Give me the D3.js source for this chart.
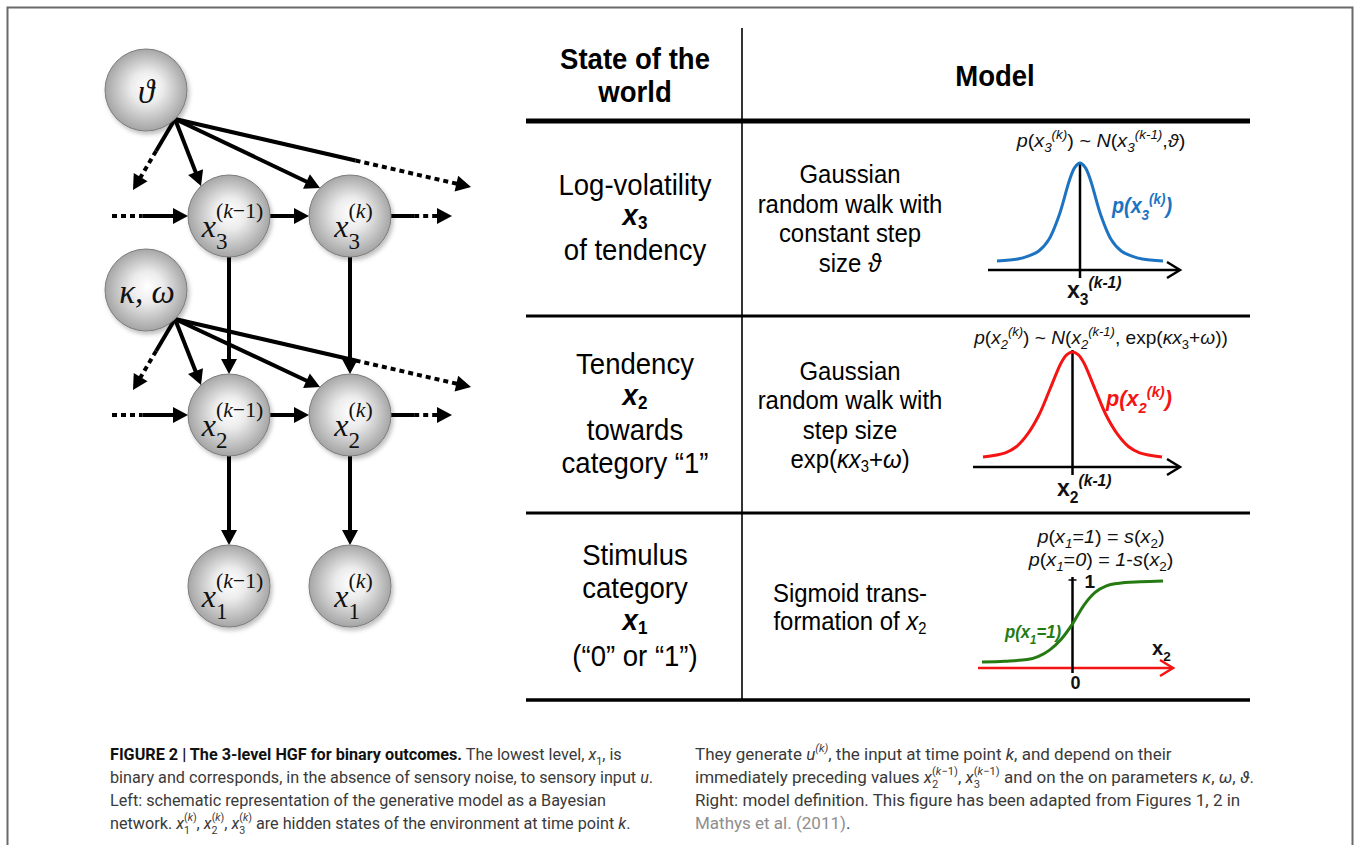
<!DOCTYPE html>
<html>
<head>
<meta charset="utf-8">
<script src="https://cdn.jsdelivr.net/npm/d3@7"></script>
<style>
  body { margin: 0; background: #fff; }
  svg { display: block; }
</style>
</head>
<body>
<div id="chart"></div>
<script>
// ---- data ----
var timeSteps = ["k-1", "k"];
var levels = [3, 2, 1];
var params = [
  { id: "theta", level: 3, label: [{ t: "ϑ", i: 1 }] },
  { id: "kw", level: 2, label: [{ t: "κ, ω", i: 1 }] }
];
// every parameter points to: the past (off view), x(k-1), x(k), the future (off view)
var paramTargets = ["past", "k-1", "k", "future"];

var headers = [["State of the", "world"], ["Model"]];

var stateLabels = [
  [["Log-volatility"], [{ t: "x", b: 1, i: 1 }, { t: "3", sub: 1, b: 1 }], [" of tendency"]],
  [["Tendency"], [{ t: "x", b: 1, i: 1 }, { t: "2", sub: 1, b: 1 }], ["towards"], ["category “1”"]],
  [["Stimulus"], ["category"], [{ t: "x", b: 1, i: 1 }, { t: "1", sub: 1, b: 1 }], ["(“0” or “1”)"]]
];
var modelLabels = [
  [["Gaussian"], ["random walk with"], ["constant step"], ["size ", { t: "ϑ", i: 1 }]],
  [["Gaussian"], ["random walk with"], ["step size"],
   ["exp(", { t: "κx", i: 1 }, { t: "3", sub: 1 }, "+", { t: "ω", i: 1 }, ")"]],
  [["Sigmoid trans-"], ["formation of ", { t: "x", i: 1 }, { t: "2", sub: 1 }]]
];
var formulas = [
  [[{ t: "p", i: 1 }, "(", { t: "x", i: 1 }, { t: "3", sub: 1, i: 1 }, { t: "(k)", sup: 1, i: 1 }, ") ~ ",
    { t: "N", i: 1 }, "(", { t: "x", i: 1 }, { t: "3", sub: 1, i: 1 }, { t: "(k-1)", sup: 1, i: 1 }, ",", { t: "ϑ", i: 1 }, ")"]],
  [[{ t: "p", i: 1 }, "(", { t: "x", i: 1 }, { t: "2", sub: 1, i: 1 }, { t: "(k)", sup: 1, i: 1 }, ") ~ ",
    { t: "N", i: 1 }, "(", { t: "x", i: 1 }, { t: "2", sub: 1, i: 1 }, { t: "(k-1)", sup: 1, i: 1 }, ", exp(",
    { t: "κx", i: 1 }, { t: "3", sub: 1 }, "+", { t: "ω", i: 1 }, "))"]],
  [[{ t: "p", i: 1 }, "(", { t: "x", i: 1 }, { t: "1", sub: 1, i: 1 }, "=", { t: "1", i: 1 }, ") = ",
    { t: "s", i: 1 }, "(", { t: "x", i: 1 }, { t: "2", sub: 1 }, ")"],
   [{ t: "p", i: 1 }, "(", { t: "x", i: 1 }, { t: "1", sub: 1, i: 1 }, "=", { t: "0", i: 1 }, ") = ",
    { t: "1", i: 1 }, "-", { t: "s", i: 1 }, "(", { t: "x", i: 1 }, { t: "2", sub: 1 }, ")"]]
];
var curveLabels = [
  [{ t: "p(x", b: 1, i: 1 }, { t: "3", sub: 1, b: 1, i: 1 }, { t: "(k)", sup: 1, b: 1, i: 1 }, { t: ")", b: 1, i: 1 }],
  [{ t: "p(x", b: 1, i: 1 }, { t: "2", sub: 1, b: 1, i: 1 }, { t: "(k)", sup: 1, b: 1, i: 1 }, { t: ")", b: 1, i: 1 }],
  [{ t: "p(x", b: 1, i: 1 }, { t: "1", sub: 1, b: 1, i: 1 }, { t: "=1)", b: 1, i: 1 }]
];
var axisLabels = [
  [{ t: "x", b: 1 }, { t: "3", sub: 1, b: 1 }, { t: "(k-1)", sup: 1, b: 1, i: 1 }],
  [{ t: "x", b: 1 }, { t: "2", sub: 1, b: 1 }, { t: "(k-1)", sup: 1, b: 1, i: 1 }],
  [{ t: "x", b: 1 }, { t: "2", sub: 1, b: 1 }]
];

// curves (x in arbitrary units, y relative to the peak)
var curveX = [-4, -3, -2.5, -2, -1.5, -1, -0.5, -0.25, 0, 0.25, 0.5, 1, 1.5, 2, 2.5, 3, 4];
var x3Density = [0, 0.02, 0.05, 0.1, 0.22, 0.47, 0.83, 0.955, 1, 0.955, 0.83, 0.47, 0.22, 0.1, 0.05, 0.02, 0];
var x2Density = [0, 0.04, 0.1, 0.22, 0.4, 0.65, 0.9, 0.975, 1, 0.975, 0.9, 0.65, 0.4, 0.22, 0.1, 0.04, 0];
var sigmoidX = [-4, -3, -2, -1.5, -1, -0.5, 0, 0.5, 1, 1.5, 2, 3, 4];
var sigmoidP = [0, 0.01, 0.03, 0.07, 0.15, 0.28, 0.47, 0.7, 0.86, 0.94, 0.97, 0.99, 1];
var curveColors = ["#1c73c2", "#f51414", "#267a12"];

var kFrac = function(n) { return [["(", { t: "k", i: 1 }, ")"], [n]]; };
var kmFrac = function(n) { return [["(", { t: "k", i: 1 }, "−1)"], [n]]; };
var captionLeft = [
  [{ t: "FIGURE 2 | The 3-level HGF for binary outcomes.", b: 1, fill: "#111" }, " The lowest level, ",
   { t: "x", i: 1 }, { t: "1", sub: 1 }, ", is"],
  ["binary and corresponds, in the absence of sensory noise, to sensory input ", { t: "u", i: 1 }, "."],
  ["Left: schematic representation of the generative model as a Bayesian"],
  ["network. ", { t: "x", i: 1 }, { ss: kFrac("1") }, ", ", { t: "x", i: 1 }, { ss: kFrac("2") }, ", ",
   { t: "x", i: 1 }, { ss: kFrac("3") }, " are hidden states of the environment at time point ", { t: "k", i: 1 }, "."]
];
var captionRight = [
  ["They generate ", { t: "u", i: 1 }, { t: "(k)", sup: 1, i: 1 }, ", the input at time point ", { t: "k", i: 1 },
   ", and depend on their"],
  ["immediately preceding values ", { t: "x", i: 1 }, { ss: kmFrac("2") }, ", ", { t: "x", i: 1 }, { ss: kmFrac("3") },
   " and on the on parameters ", { t: "κ", i: 1 }, ", ", { t: "ω", i: 1 }, ", ", { t: "ϑ", i: 1 }, "."],
  ["Right: model definition. This figure has been adapted from Figures 1, 2 in"],
  [{ t: "Mathys et al. (2011)", fill: "#8e8e8e" }, "."]
];

// ---- page ----
var W = 1356, H = 845;
var sans = "'Liberation Sans', Arial, Helvetica, sans-serif";
var serif = "'Liberation Serif', 'DejaVu Serif', serif";

var svg = d3.select("#chart").append("svg")
  .attr("width", W)
  .attr("height", H)
  .style("font-family", sans);

var defs = svg.append("defs");
var grad = defs.append("radialGradient").attr("id", "sphere")
  .attr("cx", "50%").attr("cy", "50%").attr("r", "55%").attr("fx", "52%").attr("fy", "45%");
grad.append("stop").attr("offset", "0%").attr("stop-color", "#ffffff");
grad.append("stop").attr("offset", "35%").attr("stop-color", "#ececec");
grad.append("stop").attr("offset", "100%").attr("stop-color", "#9a9a9a");
defs.append("filter").attr("id", "shadow").attr("x", "-20%").attr("y", "-20%").attr("width", "150%").attr("height", "150%")
  .append("feDropShadow").attr("dx", 2).attr("dy", 3).attr("stdDeviation", 2)
  .attr("flood-color", "#000").attr("flood-opacity", 0.25);

svg.append("rect")
  .attr("x", 7.5).attr("y", 7.5).attr("width", 1345).attr("height", 900)
  .attr("fill", "none").attr("stroke", "#6a6a6a").attr("stroke-width", 2);

// text with italics, sub/superscripts and stacked indices
function rich(text, segs, size, o) {
  o = Object.assign({ supS: 0.68, subS: 0.68, supY: -0.42, subY: 0.28 }, o || {});
  var cur = 0, pendDx = 0;
  function add(s, fs, shift, inherit) {
    if (typeof s === "string") s = { t: s };
    s = Object.assign({}, inherit || {}, s);
    var ts = text.append("tspan").text(s.t).attr("font-size", fs);
    var dy = shift - cur;
    if (dy) ts.attr("dy", dy);
    cur = shift;
    if (pendDx) { ts.attr("dx", pendDx); pendDx = 0; }
    if (s.i) ts.attr("font-style", "italic");
    if (s.b) ts.attr("font-weight", "bold");
    if (s.fill) ts.attr("fill", s.fill);
    return ts;
  }
  segs.forEach(function(s) {
    if (typeof s === "string") s = { t: s };
    if (s.ss) {
      var up = 0, dn = 0, inh = { b: s.b };
      s.ss[0].forEach(function(p) { up += add(p, size * o.supS, size * o.supY, inh).node().getComputedTextLength(); });
      pendDx = -up;
      s.ss[1].forEach(function(p) { dn += add(p, size * o.subS, size * o.subY, inh).node().getComputedTextLength(); });
      pendDx = Math.max(0, up - dn);
      return;
    }
    var shift = 0, fs = size;
    if (s.sub) { fs = size * o.subS; shift = size * o.subY; }
    if (s.sup) { fs = size * o.supS; shift = size * o.supY; }
    add(s, fs, shift);
  });
  return text;
}

// ---- left: Bayesian network ----
var R = 41;
var colX = d3.scalePoint().domain(timeSteps).range([229, 350]);
var levelY = d3.scaleOrdinal().domain(levels).range([216, 415, 586]);
var paramX = 146;
var paramY = d3.scaleOrdinal().domain(params.map(function(p) { return p.level; })).range([90, 290]);

var nodes = [];
levels.forEach(function(l) {
  timeSteps.forEach(function(t) { nodes.push({ level: l, step: t, x: colX(t), y: levelY(l) }); });
});
function nodeAt(l, t) { return nodes.find(function(n) { return n.level === l && n.step === t; }); }
function onCircle(n, deg) {
  var a = deg * Math.PI / 180;
  return [n.x + R * Math.cos(a), n.y + R * Math.sin(a)];
}

var gArrows = svg.append("g").attr("stroke", "#000").attr("stroke-width", 4);
function arrow(p0, p1, dot) {
  var dx = p1[0] - p0[0], dy = p1[1] - p0[1], L = Math.hypot(dx, dy);
  var ux = dx / L, uy = dy / L, hl = 15, hw = 8;
  var base = [p1[0] - ux * hl, p1[1] - uy * hl];
  var fEnd = (L - hl + 2) / L;
  var at = function(f) { return [p0[0] + dx * f, p0[1] + dy * f]; };
  var pieces = dot
    ? [[0, dot[0], false], [dot[0], Math.min(dot[1], fEnd), true], [Math.min(dot[1], fEnd), fEnd, false]]
    : [[0, fEnd, false]];
  pieces.forEach(function(p) {
    if (p[1] - p[0] < 0.002) return;
    var a = at(p[0]), b = at(p[1]);
    gArrows.append("line")
      .attr("x1", a[0]).attr("y1", a[1]).attr("x2", b[0]).attr("y2", b[1])
      .attr("stroke-dasharray", p[2] ? "5,4" : null);
  });
  gArrows.append("path")
    .attr("d", "M" + p1 + "L" + [base[0] - uy * hw, base[1] + ux * hw] + "L" + [base[0] + uy * hw, base[1] - ux * hw] + "Z")
    .attr("fill", "#000").attr("stroke", "none");
}

// chain over time (levels 3 and 2)
[3, 2].forEach(function(l) {
  var a = nodeAt(l, "k-1"), b = nodeAt(l, "k"), y = levelY(l);
  arrow([112, y], [a.x - R, y], [0, 0.4]);
  arrow([a.x + R, y], [b.x - R, y]);
  arrow([b.x + R, y], [452, y], [0.38, 1]);
});
// downward links
[[3, 2], [2, 1]].forEach(function(pair) {
  timeSteps.forEach(function(t) {
    var a = nodeAt(pair[0], t), b = nodeAt(pair[1], t);
    arrow([a.x, a.y + R], [b.x, b.y - R]);
  });
});
// parameter links
params.forEach(function(p) {
  var py = paramY(p.level);
  var src = [paramX + R * Math.SQRT1_2, py + R * Math.SQRT1_2];
  paramTargets.forEach(function(t) {
    if (t === "past") arrow(src, [133, py + 100], [0.45, 1]);
    else if (t === "future") arrow(src, [471, py + 97], [0.61, 1]);
    else arrow(src, onCircle(nodeAt(p.level, t), t === "k" ? -137 : -133));
  });
});

var gNodes = svg.append("g");
var allCircles = nodes.map(function(n) { return [n.x, n.y]; })
  .concat(params.map(function(p) { return [paramX, paramY(p.level)]; }));
gNodes.selectAll("circle").data(allCircles).join("circle")
  .attr("cx", function(d) { return d[0]; })
  .attr("cy", function(d) { return d[1]; })
  .attr("r", R)
  .attr("fill", "url(#sphere)")
  .attr("stroke", "#7c7c7c")
  .attr("stroke-width", 1)
  .attr("filter", "url(#shadow)");

function centeredLabel(segs, cx, baseY, size, o) {
  var g = gNodes.append("g");
  var t = g.append("text").attr("font-family", serif).attr("fill", "#111");
  rich(t, segs, size, o);
  var bb = t.node().getBBox();
  g.attr("transform", "translate(" + (cx - bb.x - bb.width / 2) + "," + baseY + ")");
}
var nodeOpts = { supS: 0.68, subS: 0.72, supY: -0.58, subY: 0.38 };
nodes.forEach(function(n) {
  var sup = n.step === "k" ? ["(", { t: "k", i: 1 }, ")"] : ["(", { t: "k", i: 1 }, "−1)"];
  centeredLabel([{ t: "x", i: 1 }, { ss: [sup, [String(n.level)]] }], n.x + 3, n.y + 21, 32, nodeOpts);
});
params.forEach(function(p) {
  centeredLabel(p.label, paramX + 1, paramY(p.level) + 13, 33);
});

// ---- right: table ----
var tableX0 = 526, tableX1 = 1250, divX = 742;
var tbl = svg.append("g").attr("stroke", "#000");
tbl.append("line").attr("x1", divX).attr("x2", divX).attr("y1", 28).attr("y2", 700).attr("stroke-width", 1.6);
[[121, 5], [316, 3], [513, 3], [700, 3.5]].forEach(function(r) {
  tbl.append("line").attr("x1", tableX0).attr("x2", tableX1).attr("y1", r[0]).attr("y2", r[0]).attr("stroke-width", r[1]);
});

function tableText(segs, cx, y, size, sx, weight) {
  var t = svg.append("text")
    .attr("transform", "translate(" + cx + "," + y + ") scale(" + sx + ",1)")
    .attr("text-anchor", "middle")
    .attr("font-weight", weight || null)
    .attr("fill", "#000");
  return rich(t, segs, size, { subS: 0.62, subY: 0.14 });
}

var headerX = [635, 995];
var headerBase = [[69, 102], [86]];
headers.forEach(function(h, i) {
  h.forEach(function(line, j) { tableText([line], headerX[i], headerBase[i][j], 29, 0.95, "bold"); });
});

var stateX = 635, modelX = 850;
var stateBase = [[195, 225, 260], [374, 405, 440, 473], [565, 598, 630, 666]];
var modelBase = [[183, 213, 242, 272], [380, 409, 439, 468], [602, 630]];
stateLabels.forEach(function(row, r) {
  row.forEach(function(line, j) { tableText(line, stateX, stateBase[r][j], 29, 0.95); });
});
modelLabels.forEach(function(row, r) {
  row.forEach(function(line, j) { tableText(line, modelX, modelBase[r][j], 26, 0.92); });
});

// fit a text to a given width by squeezing it horizontally
function fitted(segs, x, y, width, size, anchor, fill, o) {
  var t = svg.append("text").attr("text-anchor", anchor).attr("fill", fill);
  rich(t, segs, size, o);
  var w = t.node().getBBox().width;
  t.attr("transform", "translate(" + x + "," + y + ") scale(" + Math.min(1.1, width / w) + ",1)");
  return t;
}

// formulas, fitted to the width they take in the figure
var formulaBase = [[147], [344], [543, 566]];
var formulaWidth = [[177], [255], [135, 155]];
formulas.forEach(function(row, r) {
  row.forEach(function(line, j) {
    fitted(line, 1101, formulaBase[r][j], formulaWidth[r][j], 18, "middle", "#111");
  });
});

// ---- small plots ----
var plots = [
  { xr: [997, 1163], yr: [261, 163], axisY: 270, ax: [988, 1180], vTop: 163, vBot: 278,
    lab: [1112, 213, 22, 61], axLab: [1067, 298] },
  { xr: [983, 1162], yr: [457, 352], axisY: 467, ax: [973, 1180], vTop: 350, vBot: 475,
    lab: [1106, 406, 22, 67], axLab: [1057, 496] },
  { xr: [982, 1163], yr: [662, 581], axisY: 668, ax: [978, 1173], vTop: 577, vBot: 673,
    lab: [1005, 638, 19, 57], axLab: [1152, 655] }
];
var curveData = [
  d3.zip(curveX, x3Density),
  d3.zip(curveX, x2Density),
  d3.zip(sigmoidX, sigmoidP)
];

plots.forEach(function(p, i) {
  var xs = d3.scaleLinear().domain([-4, 4]).range(p.xr);
  var ys = d3.scaleLinear().domain([0, 1]).range(p.yr);
  var g = svg.append("g");
  var axisColor = i === 2 ? "#f51414" : "#000";
  var x0 = xs(0);

  // horizontal axis with open arrow
  g.append("line").attr("x1", p.ax[0]).attr("x2", p.ax[1] - 1).attr("y1", p.axisY).attr("y2", p.axisY)
    .attr("stroke", axisColor).attr("stroke-width", 2.5);
  g.append("path")
    .attr("d", "M" + (p.ax[1] - 13) + "," + (p.axisY - 8) + "L" + p.ax[1] + "," + p.axisY + "L" + (p.ax[1] - 13) + "," + (p.axisY + 8))
    .attr("fill", "none").attr("stroke", axisColor).attr("stroke-width", 2.5);
  // vertical line at the mean / origin
  g.append("line").attr("x1", x0).attr("x2", x0).attr("y1", p.vTop).attr("y2", p.vBot)
    .attr("stroke", "#000").attr("stroke-width", 2.5);
  if (i === 2) {
    g.append("line").attr("x1", x0 - 4).attr("x2", x0 + 4).attr("y1", p.vTop + 3).attr("y2", p.vTop + 3)
      .attr("stroke", "#000").attr("stroke-width", 1.5);
  }

  g.append("path")
    .datum(curveData[i])
    .attr("fill", "none")
    .attr("stroke", curveColors[i])
    .attr("stroke-width", 3)
    .attr("d", d3.line()
      .x(function(d) { return xs(d[0]); })
      .y(function(d) { return ys(d[1]); })
      .curve(i === 2 ? d3.curveMonotoneX : d3.curveCatmullRom.alpha(0.5)));

  fitted(curveLabels[i], p.lab[0], p.lab[1], p.lab[3], p.lab[2], "start", curveColors[i], { subS: 0.68, subY: 0.3 });
  rich(g.append("text").attr("x", p.axLab[0]).attr("y", p.axLab[1]).attr("fill", "#111"),
    axisLabels[i], i === 2 ? 20 : 23, { subS: 0.68, subY: 0.32, supS: 0.68, supY: -0.42 });

  if (i === 2) {
    g.append("text").attr("x", x0 + 12).attr("y", 588).attr("font-size", 19).attr("font-weight", "bold")
      .attr("fill", "#111").text("1");
    g.append("text").attr("x", x0 + 3).attr("y", 689).attr("font-size", 18).attr("font-weight", "bold")
      .attr("text-anchor", "middle").attr("fill", "#111").text("0");
  }
});

// ---- caption ----
function caption(lines, x, baseY, targets) {
  var texts = lines.map(function(segs) {
    var t = svg.append("text").attr("x", 0).attr("y", 0)
      .attr("font-family", "Roboto, 'Liberation Sans', sans-serif")
      .attr("fill", "#3a3a3a");
    rich(t, segs, 17, { supS: 0.66, supY: -0.45, subS: 0.66, subY: 0.3 });
    return t;
  });
  var ratios = [];
  texts.forEach(function(t, i) {
    if (targets[i]) ratios.push(targets[i] / t.node().getBBox().width);
  });
  var sx = d3.mean(ratios);
  texts.forEach(function(t, i) {
    t.attr("transform", "translate(" + x + "," + (baseY + i * 23) + ") scale(" + sx + ",1)");
  });
}
caption(captionLeft, 110, 760, [522, 545, 484, 522]);
caption(captionRight, 695, 760, [418, 598, 575, null]);
</script>
</body>
</html>
